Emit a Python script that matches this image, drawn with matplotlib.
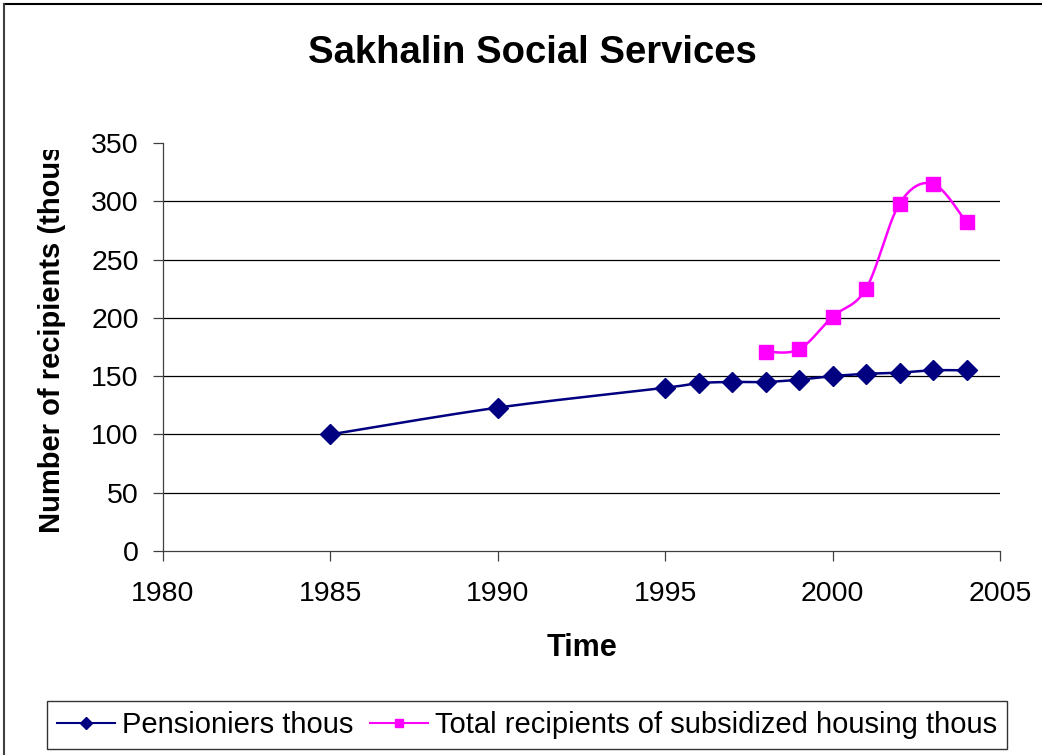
import numpy as np
import matplotlib
matplotlib.use("Agg")
import matplotlib.pyplot as plt
from matplotlib.lines import Line2D
from matplotlib.transforms import Bbox, TransformedBbox

plt.rcParams['font.family'] = ['Liberation Sans', 'DejaVu Sans']

# ---- data ----
title = "Sakhalin Social Services"
x_label = "Time"
y_label = "Number of recipients (thousands)"
pens_years = [1985, 1990, 1995, 1996, 1997, 1998, 1999, 2000, 2001, 2002, 2003, 2004]
pens_vals = [100, 123, 140, 144, 145, 145, 147, 150, 152, 153, 155, 155]
house_years = [1998, 1999, 2000, 2001, 2002, 2003, 2004]
house_vals = [171, 173, 201, 225, 298, 315, 282]
series_names = ["Pensioniers thous", "Total recipients of subsidized housing thous"]
x_ticks = [1980, 1985, 1990, 1995, 2000, 2005]
y_ticks = [0, 50, 100, 150, 200, 250, 300, 350]

PENS_COLOR = "#000080"
HOUSE_COLOR = "#FF00FF"


def smooth(xs, ys, n=40):
    """Excel-like smoothed line: cubic Bezier with Catmull-Rom control points."""
    xs = np.asarray(xs, float)
    ys = np.asarray(ys, float)
    px, py = [], []
    m = len(xs)
    for i in range(m - 1):
        i0 = max(i - 1, 0)
        i3 = min(i + 2, m - 1)
        p0 = np.array([xs[i], ys[i]])
        p3 = np.array([xs[i + 1], ys[i + 1]])
        c1 = p0 + (np.array([xs[i + 1], ys[i + 1]]) - np.array([xs[i0], ys[i0]])) / 6.0
        c2 = p3 - (np.array([xs[i3], ys[i3]]) - np.array([xs[i], ys[i]])) / 6.0
        t = np.linspace(0, 1, n)[:, None]
        pts = ((1 - t) ** 3) * p0 + 3 * ((1 - t) ** 2) * t * c1 + 3 * (1 - t) * t ** 2 * c2 + t ** 3 * p3
        px.extend(pts[:, 0])
        py.extend(pts[:, 1])
    return np.array(px), np.array(py)


W, H = 1042, 755
fig = plt.figure(figsize=(W / 100, H / 100), dpi=100)
ax = fig.add_axes([163 / W, 1 - 551 / H, (1000 - 163) / W, (551 - 143) / H])

# gridlines (no line at the top value)
for yv in y_ticks[1:-1]:
    ax.axhline(yv, color="black", lw=0.9, zorder=1)

sx, sy = smooth(pens_years, pens_vals)
ax.plot(sx, sy, color=PENS_COLOR, lw=1.8, zorder=3)
ax.plot(pens_years, pens_vals, linestyle="none", marker="D", markersize=10,
        color=PENS_COLOR, zorder=4)

sx, sy = smooth(house_years, house_vals)
ax.plot(sx, sy, color=HOUSE_COLOR, lw=1.8, zorder=3)
ax.plot(house_years, house_vals, linestyle="none", marker="s", markersize=9.5,
        color=HOUSE_COLOR, zorder=4)

ax.set_xlim(x_ticks[0], x_ticks[-1])
ax.set_ylim(y_ticks[0], y_ticks[-1])
ax.set_xticks(x_ticks)
ax.set_yticks(y_ticks)
ax.tick_params(axis="both", labelsize=20.5, length=7.5, width=0.9, color="#404040",
               direction="out")
ax.tick_params(axis="y", pad=10)
ax.tick_params(axis="x", pad=14)
for s in ["top", "right"]:
    ax.spines[s].set_visible(False)
for s in ["left", "bottom"]:
    ax.spines[s].set_color("#404040")
    ax.spines[s].set_linewidth(0.9)

# title and axis labels
fig.text(532 / W, 1 - 53 / H, title, ha="center", va="center", fontsize=27.5,
         fontweight="bold")
fig.text(582 / W, 1 - 648 / H, x_label, ha="center", va="center", fontsize=22,
         fontweight="bold")
yl = fig.text(52 / W, 1 - 533 / H, y_label, rotation=90, ha="center", va="bottom",
              fontsize=21, fontweight="bold")
clip = TransformedBbox(Bbox([[0, 0], [0.12, 1 - 150 / H]]), fig.transFigure)
yl.set_clip_box(clip)
yl.set_clip_on(True)

# legend
handles = [
    Line2D([], [], color=PENS_COLOR, lw=1.5, marker="D", markersize=6),
    Line2D([], [], color=HOUSE_COLOR, lw=1.5, marker="s", markersize=6),
]
leg = fig.legend(handles, series_names, loc="center", bbox_to_anchor=(527 / W, 1 - 725 / H),
                 ncol=2, fontsize=21, frameon=True, fancybox=False, edgecolor="black",
                 handlelength=2.0, handletextpad=0.25, columnspacing=0.55,
                 borderpad=0.33, borderaxespad=0)
leg.get_frame().set_linewidth(1.0)

# figure border (top and left visible)
fig.add_artist(Line2D([4 / W, 1], [1 - 4 / H, 1 - 4 / H], transform=fig.transFigure,
                      color="black", lw=1.5))
fig.add_artist(Line2D([4 / W, 4 / W], [0, 1 - 4 / H], transform=fig.transFigure,
                      color="#404040", lw=1.5))

fig.savefig("out.png", dpi=100)
